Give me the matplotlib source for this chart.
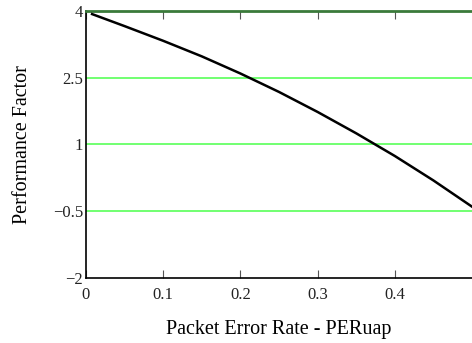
import matplotlib.pyplot as plt

per = [0.008, 0.05, 0.1, 0.15, 0.2, 0.25, 0.3, 0.35, 0.4, 0.45, 0.5]
perf = [3.93, 3.66, 3.33, 2.98, 2.595, 2.18, 1.73, 1.25, 0.74, 0.19, -0.40]

xticks = [0, 0.1, 0.2, 0.3, 0.4]
xlabels = ['0', '0.1', '0.2', '0.3', '0.4']
yticks = [4, 2.5, 1, -0.5, -2]
ylabels = ['4', '2.5', '1', '\u22120.5', '\u22122']

plt.rcParams['font.family'] = ['Liberation Serif', 'DejaVu Serif']

fig = plt.figure(figsize=(4.72, 3.43), dpi=100)
ax = fig.add_axes([0.182, 0.19, 0.818, 0.778])

for y in [2.5, 1, -0.5]:
    ax.axhline(y, color='#66ff66', lw=1.3, zorder=1)

ax.plot(per, perf, color='black', lw=1.8, zorder=3)

ax.set_xlim(0, 0.5)
ax.set_ylim(-2, 4)
ax.set_xticks(xticks)
ax.set_xticklabels(xlabels, fontsize=12, color='#222222')
ax.set_yticks(yticks)
ax.set_yticklabels(ylabels, fontsize=12, color='#222222')

ax.spines['right'].set_visible(False)
ax.spines['top'].set_color('#3a7a3a')
ax.spines['top'].set_linewidth(2)
ax.spines['left'].set_linewidth(1.2)
ax.spines['bottom'].set_linewidth(1.2)

ax.tick_params(axis='x', direction='in', length=6, color='#555555', top=True, pad=6.5)
ax.tick_params(axis='y', length=0, pad=2)

ax.set_xlabel('Packet Error Rate - PERuap', fontsize=14.5, labelpad=12)
ax.set_ylabel('Performance Factor', fontsize=14.5, labelpad=15)

fig.savefig('out.png', dpi=100)
